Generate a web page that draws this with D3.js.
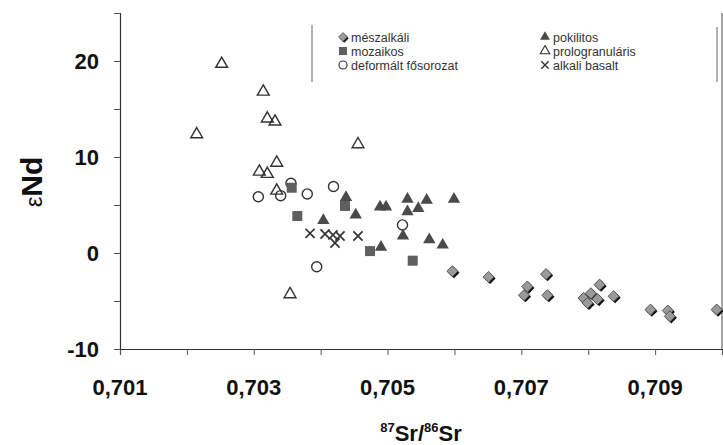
<!DOCTYPE html>
<html><head><meta charset="utf-8">
<script src="https://cdn.jsdelivr.net/npm/d3@7"></script>
<style>
html,body{margin:0;padding:0;background:#fff;}
svg{display:block;font-family:"Liberation Sans",Arial,sans-serif;}
</style></head>
<body><svg id="c" width="723" height="445"></svg>
<script>
// ---- data ----
const meszalkaliX = [0.70597,0.70651,0.70709,0.70704,0.70737,0.70739,0.70793,0.70799,0.70804,0.70814,0.70817,0.70838,0.70893,0.70919,0.70922,0.70992];
const meszalkaliY = [-1.9,-2.5,-3.5,-4.4,-2.2,-4.4,-4.7,-5.2,-4.2,-4.8,-3.3,-4.5,-5.9,-6.0,-6.6,-5.9];
const mozaikosX = [0.703567,0.704364,0.703651,0.704738,0.705376];
const mozaikosY = [6.8,4.9,3.85,0.2,-0.8];
const deformaltX = [0.703068,0.703402,0.703556,0.7038,0.704192,0.703941,0.705223];
const deformaltY = [5.86,5.97,7.26,6.15,6.93,-1.43,2.92];
const pokilitosX = [0.704379,0.704524,0.70404,0.704887,0.704977,0.705298,0.705298,0.70546,0.705585,0.705993,0.705231,0.705624,0.705824,0.704902];
const pokilitosY = [5.8,3.96,3.4,4.8,4.8,5.6,4.3,4.65,5.5,5.6,1.77,1.4,0.83,0.6];
const prologX = [0.70252,0.703142,0.703202,0.703317,0.702147,0.704558,0.703343,0.703083,0.703202,0.703343,0.703542];
const prologY = [19.7,16.8,14.0,13.68,12.36,11.32,9.4,8.47,8.23,6.49,-4.3];
const alkaliX = [0.703841,0.704065,0.704184,0.704289,0.704214,0.704558];
const alkaliY = [2.05,1.98,1.88,1.77,1.04,1.77];
const xTickLabels = ["0,701","0,703","0,705","0,707","0,709"];
const yTickLabels = ["-10","0","10","20"];
const legendLabels = ["mészalkáli","mozaikos","deformált fősorozat","pokilitos","prologranuláris","alkali basalt"];

// ---- layout ----
const svg = d3.select("#c");
const L = 120, R = 722, T = 13, B = 349;
const x = d3.scaleLinear().domain([0.701, 0.710]).range([L, R]);
const y = d3.scaleLinear().domain([-10, 25]).range([B, T]);

// axes
const xAxis = d3.axisBottom(x).tickValues(d3.range(0, 10).map(i => 0.701 + i * 0.001)).tickSize(6).tickFormat("");
const gx = svg.append("g").attr("transform", `translate(0,${B})`).call(xAxis);
gx.select(".domain").attr("stroke", "#333").attr("stroke-width", 1.2);
gx.selectAll(".tick line").attr("stroke", "#555");
const yAxis = d3.axisLeft(y).tickValues([-10,-5,0,5,10,15,20,25]).tickSize(6).tickFormat("");
const gy = svg.append("g").attr("transform", `translate(${L},0)`).call(yAxis);
gy.select(".domain").attr("stroke", "#333").attr("stroke-width", 1.2);
gy.selectAll(".tick line").attr("stroke", "#555");
// right frame
svg.append("line").attr("x1", R).attr("x2", R).attr("y1", T).attr("y2", B).attr("stroke", "#666").attr("stroke-width", 1.2);

// tick labels
svg.selectAll(".xl").data(xTickLabels).enter().append("text")
  .attr("x", d => x(+d.replace(",", "."))).attr("y", 395)
  .attr("text-anchor", "middle").attr("font-size", 22).attr("font-weight", "bold").attr("fill", "#111")
  .text(d => d);
svg.selectAll(".yl").data(yTickLabels).enter().append("text")
  .attr("x", 99).attr("y", d => y(+d) + 8)
  .attr("text-anchor", "end").attr("font-size", 22).attr("font-weight", "bold").attr("fill", "#111")
  .text(d => d);

// axis titles
const yt = svg.append("text").attr("transform", "translate(42,182) rotate(-90)")
  .attr("text-anchor", "middle").attr("font-size", 30).attr("font-weight", "bold").attr("fill", "#111");
yt.append("tspan").attr("font-weight", "normal").attr("font-size", 24).text("ε");
yt.append("tspan").text("Nd");

const xt = svg.append("text").attr("x", 421).attr("y", 441).attr("text-anchor", "middle")
  .attr("font-size", 22).attr("font-weight", "bold").attr("fill", "#111");
xt.append("tspan").attr("font-size", 13).attr("dy", -9).text("87");
xt.append("tspan").attr("dy", 9).text("Sr/");
xt.append("tspan").attr("font-size", 13).attr("dy", -9).text("86");
xt.append("tspan").attr("dy", 9).text("Sr");

// ---- symbols ----
const tri = d3.symbol().type(d3.symbolTriangle).size(50)();
const sq = d3.symbol().type(d3.symbolSquare).size(100)();
const circ = d3.symbol().type(d3.symbolCircle).size(80)();
const diam = d3.symbol().type(d3.symbolSquare).size(62)();
const cross = d3.symbol().type(d3.symbolX).size(56)();

function drawDiamond(g, px, py) {
  g.append("path").attr("d", diam).attr("transform", `translate(${px + 1.5},${py + 1.5}) rotate(45)`).attr("fill", "#111");
  g.append("path").attr("d", diam).attr("transform", `translate(${px},${py}) rotate(45)`)
    .attr("fill", "#9a9a9a").attr("stroke", "#444").attr("stroke-width", 0.8);
}
function drawMark(g, kind, px, py) {
  if (kind === 0) drawDiamond(g, px, py);
  else if (kind === 1) g.append("path").attr("d", sq).attr("transform", `translate(${px},${py})`).attr("fill", "#5f5f5f");
  else if (kind === 2) g.append("path").attr("d", circ).attr("transform", `translate(${px},${py})`).attr("fill", "#fff").attr("fill-opacity", 0).attr("stroke", "#333").attr("stroke-width", 1.4);
  else if (kind === 3) g.append("path").attr("d", tri).attr("transform", `translate(${px},${py}) scale(1.15)`).attr("fill", "#4a4a4a");
  else if (kind === 4) g.append("path").attr("d", tri).attr("transform", `translate(${px},${py}) scale(1.1)`).attr("fill", "none").attr("stroke", "#333").attr("stroke-width", 1.3);
  else if (kind === 5) g.append("path").attr("d", cross).attr("transform", `translate(${px},${py})`).attr("fill", "none").attr("stroke", "#333").attr("stroke-width", 1.7);
}

const series = [
  [deformaltX, deformaltY, 2],
  [prologX, prologY, 4],
  [mozaikosX, mozaikosY, 1],
  [pokilitosX, pokilitosY, 3],
  [alkaliX, alkaliY, 5],
  [meszalkaliX, meszalkaliY, 0]
];
const gm = svg.append("g");
series.forEach(([xs, ys, k]) => xs.forEach((v, i) => drawMark(gm, k, x(v), y(ys[i]))));

// ---- legend ----
const lg = svg.append("g");
lg.append("line").attr("x1", 312).attr("x2", 312).attr("y1", 25).attr("y2", 82).attr("stroke", "#999").attr("stroke-width", 1.5);
lg.append("line").attr("x1", 717).attr("x2", 717).attr("y1", 27).attr("y2", 82).attr("stroke", "#999").attr("stroke-width", 1.5);
const legendKinds = [0, 1, 2, 3, 4, 5];
legendLabels.forEach((lab, i) => {
  const col = Math.floor(i / 3), row = i % 3;
  const mx = col === 0 ? 343 : 545;
  const my = 37 + row * 14;
  const k = legendKinds[i];
  const lgm = lg.append("g").attr("transform", `translate(${mx},${my}) scale(0.8)`);
  drawMark(lgm, k, 0, 0);
  lg.append("text").attr("x", mx + 8).attr("y", my + 4.5).attr("font-size", 12.5).attr("fill", "#333").text(lab);
});
</script>
</body></html>
